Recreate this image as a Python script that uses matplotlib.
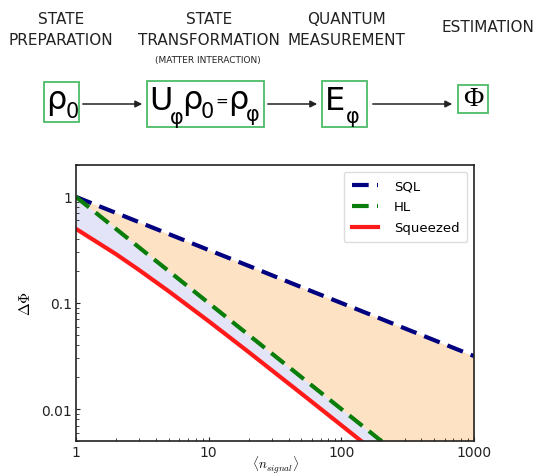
import matplotlib
matplotlib.use("Agg")
import matplotlib.pyplot as plt
from matplotlib.patches import Rectangle, FancyArrowPatch
import numpy as np

# ---- data ----
n_signal = [1, 2, 3, 5, 10, 20, 50, 100, 200, 500, 1000]
sql = [1.0, 0.707, 0.577, 0.447, 0.316, 0.224, 0.141, 0.100, 0.0707, 0.0447, 0.0316]
hl = [1.0, 0.5, 0.333, 0.2, 0.1, 0.05, 0.02, 0.01, 0.005, 0.002, 0.001]
squeezed = [0.5, 0.289, 0.204, 0.129, 0.0674, 0.0345, 0.0140, 0.00704, 0.00353, 0.00141, 0.000707]
series_labels = ["SQL", "HL", "Squeezed"]
x_ticks = [1, 10, 100, 1000]
x_ticklabels = ["1", "10", "100", "1000"]
y_ticks = [0.01, 0.1, 1]
y_ticklabels = ["0.01", "0.1", "1"]

stage_titles = ["STATE\nPREPARATION", "STATE\nTRANSFORMATION", "QUANTUM\nMEASUREMENT", "ESTIMATION"]
sub_note = "(MATTER INTERACTION)"

W, H = 537, 477
fig = plt.figure(figsize=(W / 100, H / 100), dpi=100)
plt.rcParams['mathtext.fontset'] = 'cm'

# ---- top diagram ----
top = fig.add_axes([0, 0, 1, 1], zorder=-1)
top.set_xlim(0, W)
top.set_ylim(H, 0)
top.axis('off')

tf = dict(family='DejaVu Sans', fontsize=11, color='#222222', ha='center', va='center',
          linespacing=1.5)
top.text(61, 30, stage_titles[0], **tf)
top.text(209, 30, stage_titles[1], **tf)
top.text(346, 30, stage_titles[2], **tf)
top.text(488, 28, stage_titles[3], **tf)
top.text(208, 61, sub_note, family='DejaVu Sans', fontsize=6.5, color='#222222', ha='center', va='center')

green = '#4cbb68'
boxes = [(44, 83, 35, 40), (147, 82, 117, 46), (322, 82, 45, 46), (458, 86, 30, 28)]
for (x, y, w, h) in boxes:
    top.add_patch(Rectangle((x, y), w, h, fill=False, edgecolor=green, lw=1.3))

big = dict(family='DejaVu Sans', fontsize=23, color='black', va='center', ha='left')
small = dict(family='DejaVu Sans', fontsize=15, color='black', va='center', ha='left')
# rho_0
top.text(46, 100, "ρ", **big)
top.text(66, 112, "0", **small)
# U_phi rho_0 = rho_phi
top.text(149, 102, "U", **big)
top.text(170, 118, "φ", **small)
top.text(182, 100, "ρ", **big)
top.text(201, 112, "0", **small)
top.text(215, 101, "=", family='DejaVu Sans', fontsize=11, va='center', ha='left')
top.text(228, 100, "ρ", **big)
top.text(246, 115, "φ", **small)
# E_phi
top.text(325, 102, "E", **big)
top.text(346, 117, "φ", **small)
# Phi
top.text(473, 100, "Φ", family='Liberation Serif', fontsize=20, va='center', ha='center')

arrows = [(80, 145), (265, 320), (370, 455)]
for x0, x1 in arrows:
    top.add_patch(FancyArrowPatch((x0, 105), (x1, 105), arrowstyle='-|>', mutation_scale=10,
                                  lw=1.1, color='#222222'))

# ---- plot ----
ax = fig.add_axes([76 / W, 1 - 442 / H, (474 - 76) / W, (442 - 166) / H])
ax.fill_between(n_signal, squeezed, hl, color='#e3e4f8', lw=0)
ax.fill_between(n_signal, hl, sql, color='#fde3c4', lw=0)
ax.plot(n_signal, sql, ls=(0, (4, 2)), color='#000080', lw=3, label=series_labels[0])
ax.plot(n_signal, hl, ls=(0, (4, 2)), color='#0a7d0a', lw=3, label=series_labels[1])
ax.plot(n_signal, squeezed, ls='-', color='#ff1a1a', lw=3, label=series_labels[2])
ax.set_xscale('log')
ax.set_yscale('log')
ax.set_xlim(1, 1000)
ax.set_ylim(0.005, 2.0)
ax.set_xticks(x_ticks)
ax.set_xticklabels(x_ticklabels)
ax.set_yticks(y_ticks)
ax.set_yticklabels(y_ticklabels)
ax.tick_params(which='both', direction='in', labelsize=10, colors='#222222')
ax.tick_params(which='major', length=3, pad=3)
ax.tick_params(which='minor', length=2)
for s in ax.spines.values():
    s.set_linewidth(1.2)
    s.set_color('#222222')
ax.set_xlabel(r'$\langle n_{signal}\rangle$', fontsize=9.5, labelpad=-4)
ax.set_ylabel(r'$\Delta\Phi$', fontsize=11, labelpad=6)
leg = ax.legend(loc='upper right', prop={'family': 'DejaVu Sans', 'size': 9.5},
                handlelength=2.0, labelspacing=0.6, handletextpad=1.2,
                borderpad=0.6, framealpha=1, edgecolor='#dddddd')

fig.savefig('out.png', dpi=100)
